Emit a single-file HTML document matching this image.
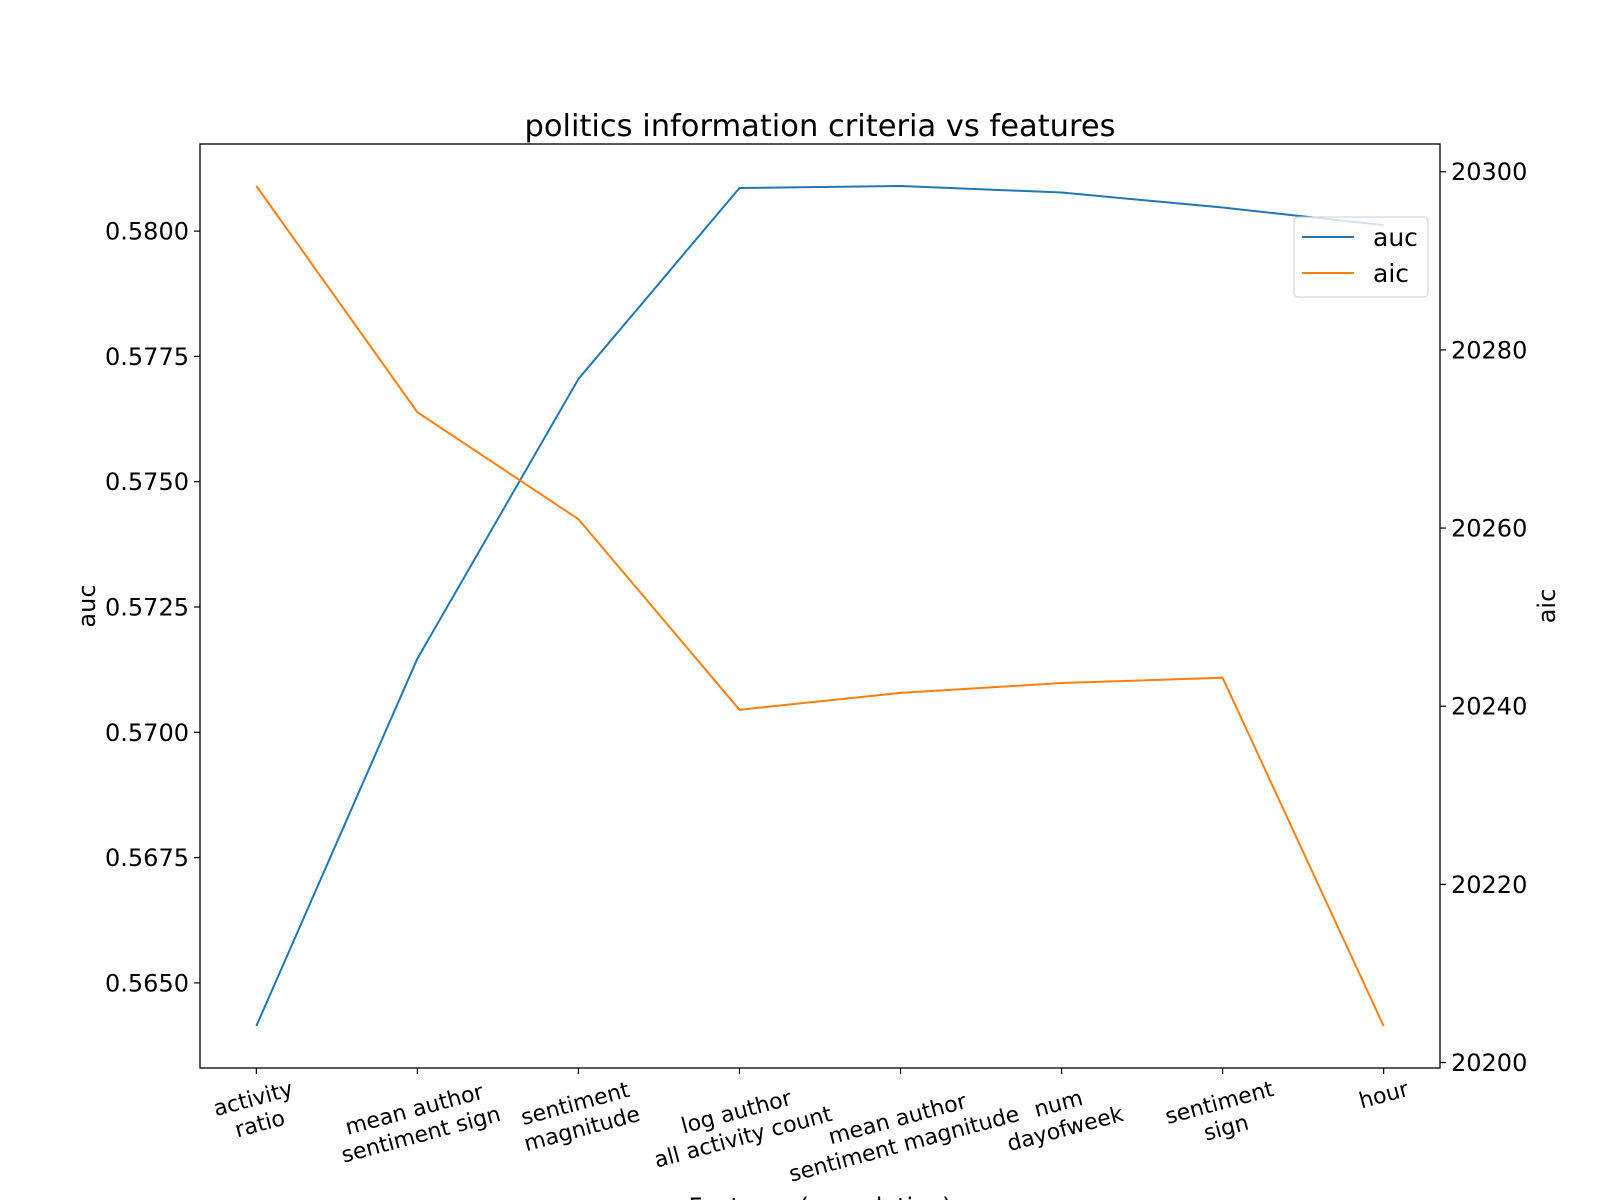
<!DOCTYPE html>
<html><head><meta charset="utf-8"><style>
html,body{margin:0;padding:0;background:#fff;width:1600px;height:1200px;overflow:hidden}
svg text{font-family:"DejaVu Sans","Liberation Sans",sans-serif;fill:#000}
</style></head><body>
<svg id="chart" width="1600" height="1200" viewBox="0 0 1600 1200" xmlns="http://www.w3.org/2000/svg">
<rect x="0" y="0" width="1600" height="1200" fill="#fff"/>
<g id="plot"></g>
</svg>
<script>
const categories = ["activity\nratio","mean author\nsentiment sign","sentiment\nmagnitude","log author\nall activity count","mean author\nsentiment magnitude","num\ndayofweek","sentiment\nsign","hour"];
const aucValues = [0.56414,0.57147,0.57705,0.58086,0.58090,0.58077,0.58047,0.58012];
const aicValues = [20298.4,20273.0,20261.0,20239.6,20241.5,20242.6,20243.2,20204.1];
const aucTicks = [0.5650,0.5675,0.5700,0.5725,0.5750,0.5775,0.5800];
const aucTickLabels = ["0.5650","0.5675","0.5700","0.5725","0.5750","0.5775","0.5800"];
const aicTicks = [20200,20220,20240,20260,20280,20300];
const aicTickLabels = ["20200","20220","20240","20260","20280","20300"];

const NS="http://www.w3.org/2000/svg";
const L=200,R=1440,T=144,B=1068;
const g=document.getElementById('plot');
function mk(tag,attrs,parent){const e=document.createElementNS(NS,tag);for(const k in attrs)e.setAttribute(k,attrs[k]);(parent||g).appendChild(e);return e;}
function lim(a){const mn=Math.min(...a),mx=Math.max(...a),m=(mx-mn)*0.05;return [mn-m,mx+m];}
const n=categories.length;
const xs=i=>L+(i+0.35)/(n-1+0.7)*(R-L);
const [a0,a1]=lim(aucValues);
const yA=v=>B-(v-a0)/(a1-a0)*(B-T);
const [c0,c1]=lim(aicValues);
const yC=v=>B-(v-c0)/(c1-c0)*(B-T);

let p1=mk('polyline',{points:aucValues.map((v,i)=>xs(i)+','+yA(v)).join(' '),fill:'none',stroke:'#1f77b4','stroke-width':2});


let p2=mk('polyline',{points:aicValues.map((v,i)=>xs(i)+','+yC(v)).join(' '),fill:'none',stroke:'#ff7f0e','stroke-width':2});



let fr=mk('rect',{x:L,y:T,width:R-L,height:B-T,fill:'none',stroke:'#000','stroke-width':1.3});



aucTicks.forEach((v,i)=>{const y=yA(v);
 mk('line',{x1:L,x2:L-6,y1:y,y2:y,stroke:'#000','stroke-width':1.2});
 const t=mk('text',{x:L-11,y:y+8.5,'text-anchor':'end','font-size':24});t.textContent=aucTickLabels[i];
 
 
});
aicTicks.forEach((v,i)=>{const y=yC(v);
 mk('line',{x1:R,x2:R+6,y1:y,y2:y,stroke:'#000','stroke-width':1.2});
 const t=mk('text',{x:R+11,y:y+8.5,'text-anchor':'start','font-size':24});t.textContent=aicTickLabels[i];
 
 
});
categories.forEach((c,i)=>{const x=xs(i);
 mk('line',{x1:x,x2:x,y1:B,y2:B+6,stroke:'#000','stroke-width':1.2});
 const lines=c.split('\n');
 const t=mk('text',{'font-size':22,'text-anchor':'middle'});
 
 
 lines.forEach((s,j)=>{const ts=mk('tspan',{x:0,dy:j?26:0},t);ts.textContent=s;});
 let w=Math.max(...lines.map(s=>s.length))*12.6;
 try{w=t.getBBox().width||w;}catch(e){}
 const h=lines.length*26;
 const H=w*0.2588+h*0.966;
 const cy=B+7+H/2;
 const off=-(lines.length-1)*26/2+8;
 t.setAttribute('transform','translate('+x+','+cy+') rotate(-15) translate(0,'+off+')');
});

let tt=mk('text',{x:820,y:136,'text-anchor':'middle','font-size':30.5});tt.textContent='politics information criteria vs features';

let yl=mk('text',{x:0,y:0,'text-anchor':'middle','font-size':24,transform:'translate(95,606) rotate(-90)'});yl.textContent='auc';

let yr=mk('text',{x:0,y:0,'text-anchor':'middle','font-size':24,transform:'translate(1555,606) rotate(-90)'});yr.textContent='aic';

let xl=mk('text',{x:820,y:1215,'text-anchor':'middle','font-size':24});xl.textContent='Features (cumulative)';


const lg=mk('g',{});


mk('rect',{x:1294,y:217,width:134,height:80,rx:4,fill:'rgba(255,255,255,0.8)',stroke:'#ccc','stroke-width':1},lg);
mk('line',{x1:1302,x2:1354,y1:237,y2:237,stroke:'#1f77b4','stroke-width':2},lg);
mk('line',{x1:1302,x2:1354,y1:273,y2:273,stroke:'#ff7f0e','stroke-width':2},lg);
let l1=mk('text',{x:1373,y:246,'font-size':25},lg);l1.textContent='auc';

let l2=mk('text',{x:1373,y:282,'font-size':25},lg);l2.textContent='aic';

</script>
</body></html>
